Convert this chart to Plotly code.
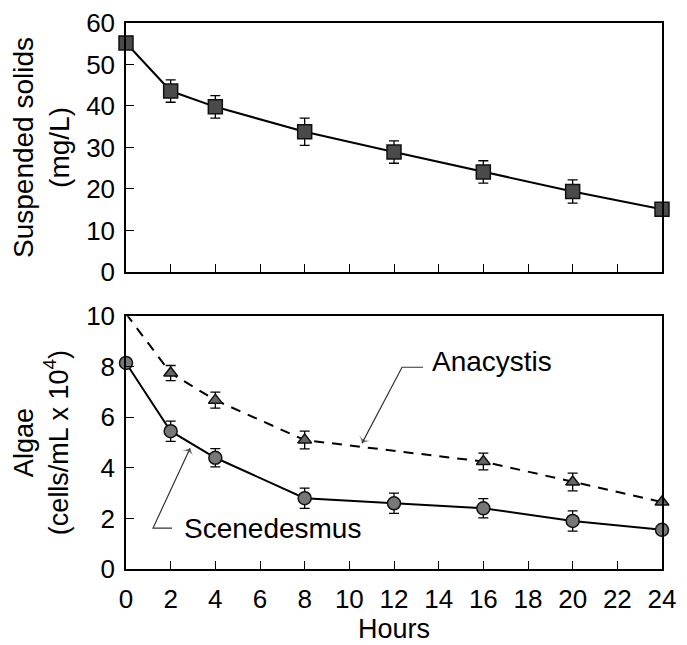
import plotly.graph_objects as go

# ---- data ----
hours_all = [0, 2, 4, 8, 12, 16, 20, 24]
hours_anacystis = [0, 2, 4, 8, 16, 20, 24]

suspended_solids = [55.2, 43.6, 39.8, 33.8, 28.9, 24.1, 19.4, 15.1]
suspended_solids_err = [0, 2.7, 2.7, 3.3, 2.7, 2.7, 2.8, 0]

scenedesmus = [8.15, 5.45, 4.4, 2.8, 2.6, 2.4, 1.9, 1.55]
scenedesmus_err = [0, 0.4, 0.36, 0.4, 0.4, 0.38, 0.4, 0]

anacystis = [10.1, 7.75, 6.68, 5.1, 4.25, 3.44, 2.65]
anacystis_err = [0, 0.3, 0.32, 0.35, 0.33, 0.35, 0]

x_ticks = list(range(0, 25, 2))
ss_ticks = [0, 10, 20, 30, 40, 50, 60]
algae_ticks = [0, 2, 4, 6, 8, 10]

# leader lines for the labels (label end -> elbow -> arrow tip)
anacystis_leader_x = [13.3, 12.36, 10.57]
anacystis_leader_y = [7.98, 7.98, 4.98]
scenedesmus_leader_x = [2.06, 1.21, 2.87]
scenedesmus_leader_y = [1.62, 1.62, 4.78]

FONT = "Liberation Sans, Arial, Helvetica, sans-serif"

fig = go.Figure()

fig.add_trace(go.Scatter(
    x=hours_all, y=suspended_solids, xaxis="x", yaxis="y",
    mode="lines+markers",
    line=dict(color="black", width=2),
    marker=dict(symbol="square", size=14, color="#4a4a4a",
                line=dict(color="#111111", width=1.5)),
    error_y=dict(type="data", array=suspended_solids_err, visible=True,
                 color="black", thickness=1.3, width=5),
    cliponaxis=False, showlegend=False))

fig.add_trace(go.Scatter(
    x=hours_anacystis, y=anacystis, xaxis="x2", yaxis="y2",
    mode="lines+markers",
    line=dict(color="black", width=2, dash="10px,8px"),
    marker=dict(symbol="triangle-up", size=12, color="#666666",
                line=dict(color="#111111", width=1.5)),
    error_y=dict(type="data", array=anacystis_err, visible=True,
                 color="black", thickness=1.3, width=5),
    cliponaxis=False, showlegend=False))

fig.add_trace(go.Scatter(
    x=hours_all, y=scenedesmus, xaxis="x2", yaxis="y2",
    mode="lines+markers",
    line=dict(color="black", width=2),
    marker=dict(symbol="circle", size=13, color="#777777",
                line=dict(color="#111111", width=1.5)),
    error_y=dict(type="data", array=scenedesmus_err, visible=True,
                 color="black", thickness=1.3, width=5),
    cliponaxis=False, showlegend=False))

for lx, ly in [(anacystis_leader_x, anacystis_leader_y),
               (scenedesmus_leader_x, scenedesmus_leader_y)]:
    fig.add_trace(go.Scatter(
        x=lx, y=ly, xaxis="x2", yaxis="y2", mode="lines+markers",
        line=dict(color="#333333", width=1.2),
        marker=dict(symbol="arrow-wide", size=[0, 0, 9], angleref="previous",
                    color="#333333", line=dict(width=0)),
        hoverinfo="skip", cliponaxis=False, showlegend=False))

axis_common = dict(showline=True, linecolor="black", linewidth=1.5, mirror=True,
                   ticks="inside", ticklen=8, tickwidth=1.2, tickcolor="black",
                   showgrid=False, zeroline=False, automargin=False,
                   tickfont=dict(family=FONT, size=26, color="black"))

# page body adds an 8px offset; size/margins compensate for it
fig.update_layout(
    width=679, height=637,
    margin=dict(l=118, r=25, t=15, b=76),
    paper_bgcolor="white", plot_bgcolor="white",
    font=dict(family=FONT, color="black"),
    xaxis=dict(domain=[0, 1], range=[0, 24], tickvals=x_ticks, showticklabels=False,
               anchor="y", **axis_common),
    yaxis=dict(domain=[0.544, 1.0], range=[0, 60], tickvals=ss_ticks, anchor="x",
               ticklabelstandoff=4,
               title=dict(text="Suspended solids<br>(mg/L)", standoff=10,
                          font=dict(family=FONT, size=28, color="black")),
               **axis_common),
    xaxis2=dict(domain=[0, 1], range=[0, 24], tickvals=x_ticks, anchor="y2",
                tickangle=0, ticklabelstandoff=6,
                title=dict(text="Hours", standoff=0,
                           font=dict(family=FONT, size=27, color="black")),
                **axis_common),
    yaxis2=dict(domain=[0, 0.463], range=[0, 10], tickvals=algae_ticks, anchor="x2",
                ticklabelstandoff=4,
                title=dict(text="Algae<br>(cells/mL x 10<sup>4</sup>)", standoff=10,
                           font=dict(family=FONT, size=27, color="black")),
                **axis_common),
)

fig.add_annotation(x=16.4, y=8.2, xref="x2", yref="y2", text="Anacystis",
                   showarrow=False, font=dict(family=FONT, size=28, color="black"))
fig.add_annotation(x=6.54, y=1.62, xref="x2", yref="y2", text="Scenedesmus",
                   showarrow=False, font=dict(family=FONT, size=28, color="black"))

fig.write_html("out.html")
